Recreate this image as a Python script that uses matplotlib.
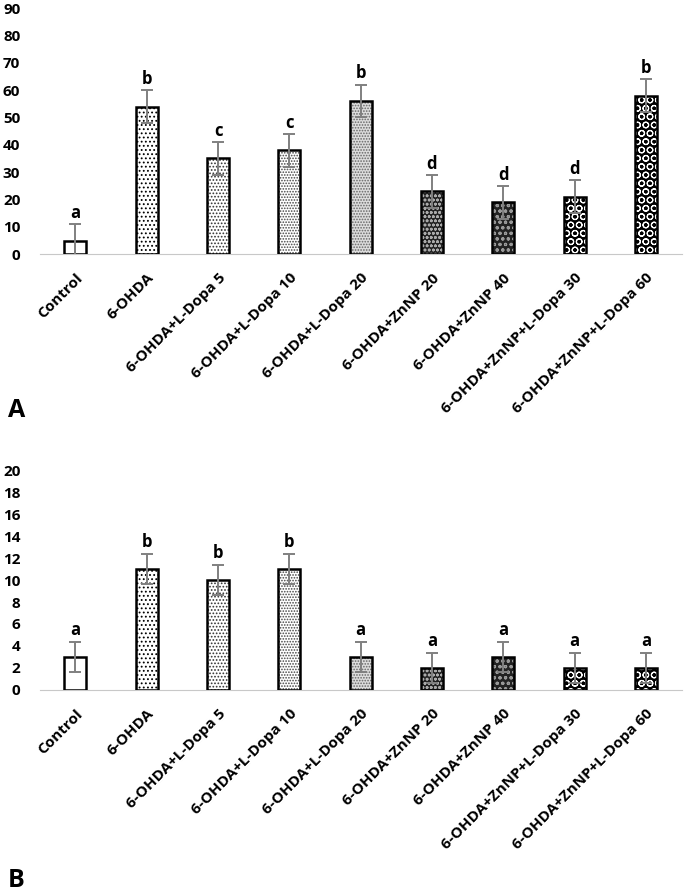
import matplotlib.pyplot as plt
import numpy as np

plt.rcParams['font.family'] = ['Open Sans', 'DejaVu Sans']
plt.rcParams['hatch.linewidth'] = 0.8

groups = ["Control", "6-OHDA", "6-OHDA+L-Dopa 5", "6-OHDA+L-Dopa 10", "6-OHDA+L-Dopa 20",
          "6-OHDA+ZnNP 20", "6-OHDA+ZnNP 40", "6-OHDA+ZnNP+L-Dopa 30", "6-OHDA+ZnNP+L-Dopa 60"]

vals_a = [5, 54, 35, 38, 56, 23, 19, 21, 58]
err_a = [6, 6, 6, 6, 6, 6, 6, 6, 6]
letters_a = ["a", "b", "c", "c", "b", "d", "d", "d", "b"]

vals_b = [3, 11, 10, 11, 3, 2, 3, 2, 2]
err_b = [1.4, 1.4, 1.4, 1.4, 1.4, 1.4, 1.4, 1.4, 1.4]
letters_b = ["a", "b", "b", "b", "a", "a", "a", "a", "a"]

# (facecolor, hatch, hatch colour)
styles = [("white", "", "black"),
          ("white", "....", "black"),
          ("white", ".....", "#333333"),
          ("white", "......", "#444444"),
          ("#dcdcdc", "......", "#666666"),
          ("#222222", "oooo", "#aaaaaa"),
          ("#222222", "ooo", "#999999"),
          ("black", "OO", "white"),
          ("black", "OO", "white")]


def panel(ax, vals, errs, letters, ymax, step, pad):
    x = np.arange(len(groups))
    w = 0.31
    for i, (v, (fc, h, hc)) in enumerate(zip(vals, styles)):
        ax.bar(x[i], v, w, color=fc, edgecolor=hc, hatch=h, linewidth=0, zorder=2)
        ax.bar(x[i], v, w, fill=False, edgecolor="black", linewidth=1.8, zorder=3)
    ax.errorbar(x, vals, yerr=errs, fmt="none", ecolor="#808080", elinewidth=1.4,
                capsize=4, capthick=1.4, zorder=4)
    for i, (v, e, t) in enumerate(zip(vals, errs, letters)):
        ax.text(x[i], v + e + pad, t, ha="center", va="bottom",
                fontsize=12, fontweight="bold")
    ax.set_xlim(-0.5, len(groups) - 0.5)
    ax.set_ylim(0, ymax)
    ax.set_yticks(np.arange(0, ymax + 0.1, step))
    ax.set_xticks(x)
    ax.set_xticklabels(groups, rotation=45, ha="right", rotation_mode="anchor",
                       fontsize=11, fontweight="bold")
    for lab in ax.get_yticklabels():
        lab.set_fontweight("bold")
        lab.set_fontsize(11)
    for s in ["top", "right", "left"]:
        ax.spines[s].set_visible(False)
    ax.spines["bottom"].set_color("#c8c8c8")
    ax.tick_params(axis="both", length=0)
    ax.tick_params(axis="y", pad=14)
    ax.tick_params(axis="x", pad=12)


fig = plt.figure(figsize=(6.85, 8.92), dpi=100)
ax1 = fig.add_axes([0.058, 0.715, 0.937, 0.276])
panel(ax1, vals_a, err_a, letters_a, 90, 10, 0.8)
ax2 = fig.add_axes([0.058, 0.2265, 0.937, 0.2465])
panel(ax2, vals_b, err_b, letters_b, 20, 2, 0.2)

fig.text(0.012, 0.54, "A", fontsize=18, fontweight="bold", va="center")
fig.text(0.012, 0.013, "B", fontsize=18, fontweight="bold", va="center")

fig.savefig("out.png", dpi=100)
